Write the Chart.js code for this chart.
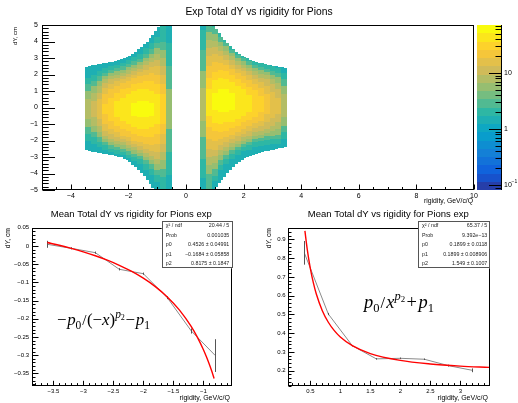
<!DOCTYPE html>
<html>
<head>
<meta charset="utf-8">
<title>Exp Total dY vs rigidity for Pions</title>
<script src="https://cdn.jsdelivr.net/npm/chart.js@4.4.1/dist/chart.umd.min.js"></script>
<style>
  html, body { margin: 0; padding: 0; background: #ffffff; }
  #page { position: relative; width: 518px; height: 403px; overflow: hidden; background: #ffffff; }
  #page canvas { position: absolute; }
</style>
</head>
<body>
<div id="page">
  <canvas id="cTop" width="518" height="206" style="left:0px;top:0px;"></canvas>
  <canvas id="cLeft" width="259" height="198" style="left:0px;top:205px;"></canvas>
  <canvas id="cRight" width="259" height="198" style="left:259px;top:205px;"></canvas>
</div>
<script>
// ================= DATA =================
// --- top pad: 2D histogram dY vs rigidity ---
// contour columns, 0.2 GeV/c/Q wide (centres)
const heatColumnX = [-3.4,-3.2,-3.0,-2.8,-2.6,-2.4,-2.2,-2.0,-1.8,-1.6,-1.4,-1.2,-1.0,-0.8,-0.6,
                      0.6, 0.8, 1.0, 1.2, 1.4, 1.6, 1.8, 2.0, 2.2, 2.4, 2.6, 2.8, 3.0, 3.2, 3.4];
const heatBinWidth = 0.2;
// y of the densest part in each column (cm)
const heatCoreY = [-0.1,-0.1,-0.1,-0.1,-0.1,-0.1,-0.1,-0.1,-0.1,-0.1,-0.1,-0.1,-0.1,-0.1,-0.1,
                    0.2, 0.3, 0.35,0.4, 0.4, 0.35,0.3, 0.3, 0.25,0.25,0.2, 0.2, 0.15,0.1, 0.1];
// contour bands per column: [distance from core (cm), entries per bin], core outwards
const heatBands = [
  [[0.6,7.5],[1.1,5],[1.5,3.3],[1.9,2.2],[9,1.4]],
  [[0.5,11],[1.0,7.5],[1.4,5],[1.7,3.3],[2.1,2.2],[9,1.4]],
  [[0.6,16],[1.0,11],[1.4,7.5],[1.7,5],[2.0,3.3],[2.3,2.2],[9,1.4]],
  [[0.3,32],[0.9,24],[1.3,16],[1.6,11],[1.8,7.5],[2.0,5],[2.2,3.3],[2.5,2.2],[9,1.4]],
  [[0.7,32],[1.2,24],[1.5,16],[1.8,11],[2.0,7.5],[2.2,5],[2.4,3.3],[2.6,2.2],[9,1.4]],
  [[0.5,45],[1.0,32],[1.4,24],[1.7,16],[1.9,11],[2.1,7.5],[2.3,5],[2.5,3.3],[2.7,2.2],[9,1.4]],
  [[0.7,45],[1.2,32],[1.6,24],[1.8,16],[2.0,11],[2.2,7.5],[2.4,5],[2.6,3.3],[2.8,2.2],[9,1.4]],
  [[0.9,45],[1.3,32],[1.7,24],[1.95,16],[2.15,11],[2.35,7.5],[2.55,5],[2.75,3.3],[2.95,2.2],[9,1.4]],
  [[0.4,60],[1.1,45],[1.5,32],[1.9,24],[2.1,16],[2.3,11],[2.5,7.5],[2.7,5],[2.9,3.3],[3.15,2.2],[9,1.4]],
  [[0.5,60],[1.2,45],[1.6,32],[2.0,24],[2.25,16],[2.45,11],[2.65,7.5],[2.85,5],[3.05,3.3],[3.35,2.2],[9,1.4]],
  [[0.5,60],[1.2,45],[1.7,32],[2.1,24],[2.4,16],[2.65,11],[2.9,7.5],[3.1,5],[3.35,3.3],[3.7,2.2],[9,1.4]],
  [[0.4,60],[1.1,45],[1.7,32],[2.2,24],[2.55,16],[2.85,11],[3.1,7.5],[3.35,5],[3.65,3.3],[4.0,2.2],[9,1.4]],
  [[0.9,45],[1.5,32],[2.1,24],[2.6,16],[3.0,11],[3.35,7.5],[3.7,5],[4.0,3.3],[4.4,2.2],[9,1.4]],
  [[0.9,32],[1.5,24],[2.1,16],[2.6,11],[3.1,7.5],[3.6,5],[4.1,3.3],[9,2.2]],
  [[1.2,5],[2.6,3.3],[4.0,2.2],[9,1.4]],
  [[1.0,7.5],[2.0,5],[3.3,3.3],[4.5,2.2],[9,1.4]],
  [[0.8,45],[1.5,32],[2.2,24],[2.8,16],[3.3,11],[3.8,7.5],[4.3,5],[9,3.3]],
  [[0.5,60],[1.3,45],[1.8,32],[2.4,24],[2.9,16],[3.3,11],[3.7,7.5],[4.1,5],[4.5,3.3],[4.8,2.2],[9,1.4]],
  [[0.7,60],[1.4,45],[1.9,32],[2.3,24],[2.7,16],[3.0,11],[3.3,7.5],[3.6,5],[3.9,3.3],[4.2,2.2],[9,1.4]],
  [[0.7,60],[1.3,45],[1.8,32],[2.2,24],[2.5,16],[2.8,11],[3.05,7.5],[3.3,5],[3.55,3.3],[3.85,2.2],[9,1.4]],
  [[0.5,60],[1.2,45],[1.6,32],[2.0,24],[2.25,16],[2.5,11],[2.75,7.5],[2.95,5],[3.15,3.3],[3.45,2.2],[9,1.4]],
  [[1.0,45],[1.4,32],[1.8,24],[2.05,16],[2.3,11],[2.5,7.5],[2.7,5],[2.9,3.3],[3.15,2.2],[9,1.4]],
  [[0.8,45],[1.2,32],[1.6,24],[1.9,16],[2.1,11],[2.3,7.5],[2.5,5],[2.7,3.3],[2.95,2.2],[9,1.4]],
  [[0.5,45],[1.0,32],[1.4,24],[1.7,16],[1.95,11],[2.15,7.5],[2.35,5],[2.55,3.3],[2.8,2.2],[9,1.4]],
  [[0.8,32],[1.2,24],[1.5,16],[1.75,11],[1.95,7.5],[2.15,5],[2.35,3.3],[2.65,2.2],[9,1.4]],
  [[0.5,32],[1.0,24],[1.35,16],[1.6,11],[1.85,7.5],[2.05,5],[2.25,3.3],[2.55,2.2],[9,1.4]],
  [[0.6,24],[1.1,16],[1.5,11],[1.75,7.5],[1.95,5],[2.15,3.3],[2.45,2.2],[9,1.4]],
  [[0.8,16],[1.25,11],[1.55,7.5],[1.85,5],[2.05,3.3],[2.35,2.2],[9,1.4]],
  [[0.5,16],[1.0,11],[1.4,7.5],[1.75,5],[2.0,3.3],[2.3,2.2],[9,1.4]],
  [[0.7,7.5],[1.2,5],[1.6,3.3],[2.0,2.2],[9,1.4]]
];
// edge of the populated region, sampled every 0.1 GeV/c/Q (centres, upper edge, lower edge; cm)
const heatEdgeX = [-3.45,-3.35,-3.25,-3.15,-3.05,-2.95,-2.85,-2.75,-2.65,-2.55,-2.45,-2.35,-2.25,-2.15,-2.05,
                   -1.95,-1.85,-1.75,-1.65,-1.55,-1.45,-1.35,-1.25,-1.15,-1.05,-0.95,-0.85,-0.75,-0.65,-0.55,
                    0.55, 0.65, 0.75, 0.85, 0.95, 1.05, 1.15, 1.25, 1.35, 1.45, 1.55, 1.65, 1.75, 1.85, 1.95,
                    2.05, 2.15, 2.25, 2.35, 2.45, 2.55, 2.65, 2.75, 2.85, 2.95, 3.05, 3.15, 3.25, 3.35, 3.45];
const heatUpperEdge = [2.48,2.52,2.56,2.6,2.63,2.66,2.69,2.72,2.75,2.78,2.82,2.86,2.91,2.97,3.04,
                       3.12,3.25,3.38,3.52,3.66,3.82,4.0,4.2,4.42,4.65,4.9,5,5,5,5,
                       5,5,5,5,5,4.75,4.5,4.3,4.1,3.9,3.72,3.56,3.38,3.25,3.14,
                       3.05,2.97,2.9,2.84,2.78,2.72,2.67,2.63,2.59,2.56,2.53,2.5,2.46,2.43,2.4];
const heatLowerEdge = [-2.6,-2.64,-2.67,-2.7,-2.73,-2.76,-2.79,-2.82,-2.85,-2.88,-2.92,-2.97,-3.03,-3.1,-3.2,
                       -3.32,-3.47,-3.63,-3.8,-3.98,-4.18,-4.4,-4.62,-4.85,-5,-5,-5,-5,-5,-5,
                       -5,-5,-5,-5,-5,-4.8,-4.6,-4.4,-4.2,-3.98,-3.78,-3.6,-3.42,-3.28,-3.16,
                       -3.07,-2.99,-2.92,-2.86,-2.8,-2.75,-2.7,-2.66,-2.62,-2.58,-2.55,-2.51,-2.48,-2.45,-2.42];
const zRange = [0.0814, 72];            // colour (z) axis range, log scale
const paletteMajorTicks = [0.1, 1, 10];
const topXTicks = [-4,-2,0,2,4,6,8,10];
const topYTicks = [-5,-4,-3,-2,-1,0,1,2,3,4,5];

// --- bottom-left pad: profile for negative rigidity + fit ---
const leftRigidity = [-3.6,-3.2,-2.8,-2.4,-2.0,-1.6,-1.2,-0.8];
const leftMeanDY   = [0.0047,-0.0064,-0.0183,-0.064,-0.076,-0.142,-0.2335,-0.301];
const leftErrDY    = [0.0096,0.003,0.003,0.003,0.003,0.004,0.007,0.045];
const leftFitX = [-3.6,-3.4,-3.2,-3.0,-2.8,-2.6,-2.4,-2.2,-2.0,-1.8,-1.6,-1.4,-1.2,-1.1,-1.0,-0.95,-0.9,-0.86,-0.82];
const leftFitY = [0.0095,0.002,-0.0065,-0.016,-0.0267,-0.0388,-0.0529,-0.0692,-0.0884,-0.1115,-0.1398,-0.1754,-0.2215,-0.2503,-0.2842,-0.3036,-0.3249,-0.3436,-0.3639];
const leftXTicks = [-3.5,-3,-2.5,-2,-1.5,-1];
const leftYTicks = [0.05,0,-0.05,-0.1,-0.15,-0.2,-0.25,-0.3,-0.35];
const leftStatLabels = ['\u03C7\u00B2 / ndf','Prob','p0','p1','p2'];
const leftStatValues = ['20.44 / 5','0.001035','0.4526 \u00B1 0.04991','\u22120.1684 \u00B1 0.05858','0.8175 \u00B1 0.1847'];

// --- bottom-right pad: profile for positive rigidity + fit ---
const rightRigidity = [0.4,0.8,1.2,1.6,2.0,2.4,2.8,3.2];
const rightMeanDY   = [0.828,0.502,0.333,0.263,0.266,0.261,0.227,0.202];
const rightErrDY    = [0.063,0.006,0.004,0.004,0.004,0.004,0.005,0.01];
const rightFitX = [0.41,0.45,0.5,0.55,0.6,0.7,0.8,0.9,1.0,1.2,1.5,2.0,2.5,3.0,3.48];
const rightFitY = [0.9455,0.8441,0.7456,0.6693,0.6089,0.5199,0.4582,0.4135,0.3798,0.3331,0.2912,0.2548,0.2358,0.2245,0.2174];
const rightXTicks = [0.5,1,1.5,2,2.5,3];
const rightYTicks = [0.2,0.3,0.4,0.5,0.6,0.7,0.8,0.9];
const rightStatLabels = ['\u03C7\u00B2 / ndf','Prob','p0','p1','p2'];
const rightStatValues = ['65.37 / 5','9.392e\u221213','0.1899 \u00B1 0.0118','0.1899 \u00B1 0.008906','1.549 \u00B1 0.1007'];

// ================= STYLE / HELPERS =================
const FONT = '"Liberation Sans", Arial, Helvetica, sans-serif';
const SERIF = '"Liberation Serif", "Times New Roman", serif';
const MINUS = '\u2212';
function tickText(v) {
  let s = String(parseFloat(Number(v).toFixed(4)));
  if (s === '-0') s = '0';
  return s.replace('-', MINUS);
}
// ROOT kBird palette
const birdR = [0.2082,0.0592,0.0780,0.0232,0.1802,0.5301,0.8186,0.9956,0.9764];
const birdG = [0.1664,0.3599,0.5041,0.6419,0.7178,0.7492,0.7328,0.7862,0.9832];
const birdB = [0.5293,0.8684,0.8385,0.7914,0.6425,0.4662,0.3499,0.1968,0.0539];
function bird(t) {
  t = Math.max(0, Math.min(1, t));
  const seg = Math.min(7, Math.floor(t * 8));
  const f = t * 8 - seg;
  const c = [birdR, birdG, birdB].map(a => Math.round(255 * (a[seg] + (a[seg + 1] - a[seg]) * f)));
  return 'rgb(' + c[0] + ',' + c[1] + ',' + c[2] + ')';
}
const N_CONT = 20;
function bandColor(i) { return bird((i + 0.99) / N_CONT); }
function zBand(count) {
  const lo = Math.log10(zRange[0]), hi = Math.log10(zRange[1]);
  const f = (Math.log10(count) - lo) / (hi - lo);
  return Math.max(0, Math.min(N_CONT - 1, Math.floor(f * N_CONT)));
}
function fixedTicks(arr) { return s => { s.ticks = arr.map(v => ({ value: v })); }; }

function rootAxes(cfg) {
  return {
    id: 'rootAxes',
    afterDraw(chart) {
      const { ctx, chartArea: a } = chart;
      const xs = chart.scales.x, ys = chart.scales.y;
      const L = Math.round(a.left), R = Math.round(a.right), T = Math.round(a.top), B = Math.round(a.bottom);
      ctx.save();
      ctx.lineWidth = 1;
      ctx.strokeStyle = cfg.frameColor;
      ctx.strokeRect(L + 0.5, T + 0.5, R - L - 1, B - T - 1);
      ctx.strokeStyle = '#000';
      ctx.beginPath();
      ctx.moveTo(L + 0.5, T); ctx.lineTo(L + 0.5, B);
      ctx.moveTo(L, B - 0.5); ctx.lineTo(R, B - 0.5);
      const k0 = Math.ceil(xs.min / cfg.xMinor - 1e-6), k1 = Math.floor(xs.max / cfg.xMinor + 1e-6);
      for (let k = k0; k <= k1; k++) {
        const v = k * cfg.xMinor;
        const major = Math.abs(v / cfg.xMajor - Math.round(v / cfg.xMajor)) < 1e-6;
        const p = Math.round(xs.getPixelForValue(v)) + 0.5;
        ctx.moveTo(p, B - 0.5); ctx.lineTo(p, B - 0.5 - (major ? cfg.xMajorLen : cfg.xMinorLen));
      }
      const j0 = Math.ceil(ys.min / cfg.yMinor - 1e-6), j1 = Math.floor(ys.max / cfg.yMinor + 1e-6);
      for (let j = j0; j <= j1; j++) {
        const v = j * cfg.yMinor;
        const major = Math.abs(v / cfg.yMajor - Math.round(v / cfg.yMajor)) < 1e-6;
        const p = Math.round(ys.getPixelForValue(v)) + 0.5;
        ctx.moveTo(L + 0.5, p); ctx.lineTo(L + 0.5 + (major ? cfg.yMajorLen : cfg.yMinorLen), p);
      }
      ctx.stroke();
      ctx.restore();
    }
  };
}

function drawText(ctx, txt, x, y, size, align, opts) {
  opts = opts || {};
  ctx.save();
  ctx.font = (opts.italic ? 'italic ' : '') + size + 'px ' + (opts.family || FONT);
  ctx.fillStyle = opts.color || '#000';
  ctx.textAlign = align || 'left';
  ctx.textBaseline = opts.baseline || 'middle';
  if (opts.rotate) { ctx.translate(x, y); ctx.rotate(opts.rotate); ctx.fillText(txt, 0, 0); }
  else ctx.fillText(txt, x, y);
  ctx.restore();
}

function drawLatex(ctx, segs, x0, baseline, targetW) {
  const base = 18;
  const setFont = (s, size) => { ctx.font = (s.italic ? 'italic ' : '') + (s.rel * size) + 'px ' + SERIF; };
  let w0 = 0;
  segs.forEach(s => { setFont(s, base); w0 += ctx.measureText(s.t).width + (s.gap || 0) * base; });
  const size = base * targetW / w0;
  ctx.save();
  ctx.fillStyle = '#000';
  ctx.textBaseline = 'alphabetic';
  ctx.textAlign = 'left';
  let x = x0;
  segs.forEach(s => {
    setFont(s, size);
    ctx.fillText(s.t, x, baseline + (s.dy || 0) * size);
    x += ctx.measureText(s.t).width + (s.gap || 0) * size;
  });
  ctx.restore();
}

function drawStatBox(ctx, box, labels, values) {
  ctx.save();
  ctx.fillStyle = '#fff';
  ctx.fillRect(box.l, box.t, box.r - box.l, box.b - box.t);
  ctx.strokeStyle = '#555';
  ctx.lineWidth = 1;
  ctx.strokeRect(Math.round(box.l) + 0.5, Math.round(box.t) + 0.5, Math.round(box.r - box.l) - 1, Math.round(box.b - box.t) - 1);
  const rowH = (box.b - box.t) / labels.length;
  labels.forEach((lab, i) => {
    const y = box.t + rowH * (i + 0.5);
    drawText(ctx, lab, box.l + 4, y, 5.3, 'left', { color: '#222' });
    drawText(ctx, values[i], box.r - 3, y, 5.3, 'right', { color: '#222' });
  });
  ctx.restore();
}

// ================= TOP PAD: 2D histogram =================
const heatPlugin = {
  id: 'heat',
  beforeDatasetsDraw(chart) {
    const { ctx, chartArea: a } = chart;
    const xs = chart.scales.x, ys = chart.scales.y;
    ctx.save();
    ctx.beginPath(); ctx.rect(a.left, a.top, a.right - a.left, a.bottom - a.top); ctx.clip();
    heatEdgeX.forEach((ex, j) => {
      const i = heatColumnX.findIndex(cx => Math.abs(cx - ex) < heatBinWidth / 2);
      if (i < 0) return;
      const x0 = Math.round(xs.getPixelForValue(ex - 0.05));
      const x1 = Math.round(xs.getPixelForValue(ex + 0.05));
      const c = heatCoreY[i], up = heatUpperEdge[j], lo = heatLowerEdge[j];
      const seg = (ya, yb) => {
        if (yb <= ya) return;
        const p0 = Math.round(ys.getPixelForValue(yb)), p1 = Math.round(ys.getPixelForValue(ya));
        if (p1 > p0) ctx.fillRect(x0, p0, x1 - x0, p1 - p0);
      };
      let inner = 0;
      heatBands[i].forEach(([outer, count]) => {
        ctx.fillStyle = bandColor(zBand(count));
        seg(c + inner, Math.min(c + outer, up));
        seg(Math.max(c - outer, lo), c - inner);
        inner = outer;
      });
    });
    ctx.restore();
  }
};

const palettePlugin = {
  id: 'palette',
  afterDraw(chart) {
    const { ctx, chartArea: a } = chart;
    const zs = chart.scales.z;
    const lo = Math.log10(zRange[0]), hi = Math.log10(zRange[1]);
    const zpx = v => {
      const p = zs ? zs.getPixelForValue(v) : NaN;
      if (isFinite(p)) return p;
      return a.bottom - (Math.log10(v) - lo) / (hi - lo) * (a.bottom - a.top);
    };
    const pl = Math.round(a.right) + 3, pr = pl + 25;
    ctx.save();
    for (let i = 0; i < N_CONT; i++) {
      const v0 = Math.pow(10, lo + (hi - lo) * i / N_CONT);
      const v1 = Math.pow(10, lo + (hi - lo) * (i + 1) / N_CONT);
      const y0 = Math.round(zpx(v0)), y1 = Math.round(zpx(v1));
      ctx.fillStyle = bandColor(i);
      ctx.fillRect(pl, y1, pr - pl, y0 - y1);
    }
    ctx.strokeStyle = '#000';
    ctx.lineWidth = 1;
    ctx.beginPath();
    ctx.moveTo(pr - 0.5, Math.round(zpx(zRange[1]))); ctx.lineTo(pr - 0.5, Math.round(zpx(zRange[0])));
    for (let e = -2; e <= 2; e++) {
      for (let m = 1; m <= 9; m++) {
        const v = m * Math.pow(10, e);
        if (v < zRange[0] || v > zRange[1]) continue;
        const p = Math.round(zpx(v)) + 0.5;
        const len = m === 1 ? 13 : 6.5;
        ctx.moveTo(pr, p); ctx.lineTo(pr - len, p);
      }
    }
    ctx.stroke();
    ctx.restore();
    paletteMajorTicks.forEach(v => {
      const p = zpx(v);
      if (v >= 10) drawText(ctx, '10', pr + 2, p, 7, 'left');
      else if (v >= 1) drawText(ctx, '1', pr + 2, p, 7, 'left');
      else {
        drawText(ctx, '10', pr + 2, p, 7, 'left');
        drawText(ctx, MINUS + '1', pr + 9.5, p - 3, 5, 'left');
      }
    });
  }
};

const topTextPlugin = {
  id: 'topText',
  afterDraw(chart) {
    const ctx = chart.ctx;
    drawText(ctx, 'Exp Total dY vs rigidity for Pions', 259, 12, 10.3, 'center');
    drawText(ctx, 'dY, cm', 15.5, 27, 6, 'right', { rotate: -Math.PI / 2 });
    drawText(ctx, 'rigidity, GeV/c/Q', 473, 201.5, 6.8, 'right');
  }
};

new Chart(document.getElementById('cTop'), {
  type: 'scatter',
  data: { datasets: [{ data: [], pointRadius: 0 }] },
  options: {
    responsive: false, animation: false, events: [],
    layout: { padding: { left: 12, right: 44, top: 25, bottom: 4 } },
    plugins: { legend: { display: false }, tooltip: { enabled: false } },
    scales: {
      x: {
        type: 'linear', min: -5, max: 10,
        grid: { display: false, drawTicks: false }, border: { display: false },
        ticks: { font: { family: FONT, size: 7 }, color: '#000', padding: 1.5, autoSkip: false, maxRotation: 0, callback: v => tickText(v) },
        afterBuildTicks: fixedTicks(topXTicks),
        afterFit: s => { s.height = 12; }
      },
      y: {
        type: 'linear', min: -5, max: 5,
        grid: { display: false, drawTicks: false }, border: { display: false },
        ticks: { font: { family: FONT, size: 7 }, color: '#000', padding: 4, autoSkip: false, callback: v => tickText(v) },
        afterBuildTicks: fixedTicks(topYTicks),
        afterFit: s => { s.width = 30; }
      },
      z: { type: 'logarithmic', position: 'right', display: false, min: zRange[0], max: zRange[1] }
    }
  },
  plugins: [heatPlugin,
    rootAxes({ frameColor: '#000', xMinor: 0.5, xMajor: 2, xMajorLen: 5, xMinorLen: 2.5, yMinor: 0.2, yMajor: 1, yMajorLen: 12.5, yMinorLen: 6.2 }),
    palettePlugin, topTextPlugin]
});

// ================= BOTTOM PADS: profiles with fits =================
function errorBarsPlugin(xv, yv, ev) {
  return {
    id: 'errBars',
    afterDatasetDraw(chart, args) {
      if (args.index !== 1) return;
      const { ctx, chartArea: a } = chart;
      const xs = chart.scales.x, ys = chart.scales.y;
      ctx.save();
      ctx.beginPath(); ctx.rect(a.left, a.top, a.right - a.left, a.bottom - a.top); ctx.clip();
      ctx.strokeStyle = '#555';
      ctx.lineWidth = 1;
      ctx.beginPath();
      xv.forEach((x, i) => {
        const px = Math.round(xs.getPixelForValue(x)) + 0.5;
        ctx.moveTo(px, ys.getPixelForValue(yv[i] + ev[i]));
        ctx.lineTo(px, ys.getPixelForValue(yv[i] - ev[i]));
      });
      ctx.stroke();
      ctx.restore();
    }
  };
}

function profileChart(id, cfg) {
  return new Chart(document.getElementById(id), {
    type: 'scatter',
    data: {
      datasets: [
        { label: 'fit', data: cfg.fitX.map((x, i) => ({ x, y: cfg.fitY[i] })), showLine: true,
          borderColor: '#ff0000', borderWidth: 1.4, pointRadius: 0, cubicInterpolationMode: 'monotone', fill: false },
        { label: 'profile', data: cfg.px.map((x, i) => ({ x, y: cfg.py[i] })), showLine: true,
          borderColor: '#8a8a8a', borderWidth: 1, pointRadius: 0, tension: 0, fill: false }
      ]
    },
    options: {
      responsive: false, animation: false, events: [],
      layout: { padding: cfg.padding },
      plugins: { legend: { display: false }, tooltip: { enabled: false } },
      scales: {
        x: {
          type: 'linear', min: cfg.xRange[0], max: cfg.xRange[1],
          grid: { display: false, drawTicks: false }, border: { display: false },
          ticks: { font: { family: FONT, size: 6 }, color: '#000', padding: 1.5, autoSkip: false, maxRotation: 0, callback: v => tickText(v) },
          afterBuildTicks: fixedTicks(cfg.xTicks),
          afterFit: s => { s.height = 10; }
        },
        y: {
          type: 'linear', min: cfg.yRange[0], max: cfg.yRange[1],
          grid: { display: false, drawTicks: false }, border: { display: false },
          ticks: { font: { family: FONT, size: 6 }, color: '#000', padding: 2.5, autoSkip: false, callback: v => tickText(v) },
          afterBuildTicks: fixedTicks(cfg.yTicks),
          afterFit: s => { s.width = 24; }
        }
      }
    },
    plugins: [
      errorBarsPlugin(cfg.px, cfg.py, cfg.pe),
      rootAxes(cfg.axes),
      {
        id: 'padText',
        afterDraw(chart) {
          const ctx = chart.ctx;
          drawText(ctx, 'Mean Total dY vs rigidity for Pions exp', cfg.titleX, 9.5, 9.5, 'center');
          drawText(ctx, 'dY, cm', cfg.yTitleX, 23, 6.8, 'right', { rotate: -Math.PI / 2 });
          drawText(ctx, 'rigidity, GeV/c/Q', cfg.xTitleRight, 193, 7, 'right');
          drawLatex(ctx, cfg.formula, cfg.formulaX, cfg.formulaBase, cfg.formulaW);
          drawStatBox(ctx, cfg.statBox, cfg.statLabels, cfg.statValues);
        }
      }
    ]
  });
}

profileChart('cLeft', {
  px: leftRigidity, py: leftMeanDY, pe: leftErrDY, fitX: leftFitX, fitY: leftFitY,
  xRange: [-3.86, -0.527], yRange: [-0.3846, 0.0503], xTicks: leftXTicks, yTicks: leftYTicks,
  padding: { left: 7.7, right: 27.3, top: 22.7, bottom: 7 },
  axes: { frameColor: '#000', xMinor: 0.1, xMajor: 0.5, xMajorLen: 4.7, xMinorLen: 2.4, yMinor: 0.01, yMajor: 0.05, yMajorLen: 6, yMinorLen: 3 },
  titleX: 131.3, yTitleX: 8.5, xTitleRight: 230,
  formula: [
    { t: MINUS, rel: 1, gap: 0.04 }, { t: 'p', rel: 1, italic: 1 }, { t: '0', rel: 0.68, dy: 0.24, gap: 0.05 },
    { t: '/', rel: 0.9, gap: 0.03 }, { t: '(', rel: 1 }, { t: MINUS, rel: 1 }, { t: 'x', rel: 1, italic: 1 }, { t: ')', rel: 1 },
    { t: 'p', rel: 0.68, italic: 1, dy: -0.42 }, { t: '2', rel: 0.48, dy: -0.3, gap: 0.04 },
    { t: MINUS, rel: 1, gap: 0.04 }, { t: 'p', rel: 1, italic: 1 }, { t: '1', rel: 0.68, dy: 0.24 }
  ],
  formulaX: 57, formulaBase: 120, formulaW: 93,
  statBox: { l: 161.7, r: 232.3, t: 16, b: 63.3 },
  statLabels: leftStatLabels, statValues: leftStatValues
});

profileChart('cRight', {
  px: rightRigidity, py: rightMeanDY, pe: rightErrDY, fitX: rightFitX, fitY: rightFitY,
  xRange: [0.128, 3.49], yRange: [0.1184, 0.962], xTicks: rightXTicks, yTicks: rightYTicks,
  padding: { left: 5, right: 28.3, top: 22.7, bottom: 7 },
  axes: { frameColor: '#000', xMinor: 0.1, xMajor: 0.5, xMajorLen: 4.7, xMinorLen: 2.4, yMinor: 0.02, yMajor: 0.1, yMajorLen: 6, yMinorLen: 3 },
  titleX: 129.3, yTitleX: 10, xTitleRight: 229,
  formula: [
    { t: 'p', rel: 1, italic: 1 }, { t: '0', rel: 0.68, dy: 0.24, gap: 0.06 },
    { t: '/', rel: 0.9, gap: 0.06 }, { t: 'x', rel: 1, italic: 1 },
    { t: 'p', rel: 0.68, italic: 1, dy: -0.42 }, { t: '2', rel: 0.48, dy: -0.3, gap: 0.08 },
    { t: '+', rel: 1, gap: 0.08 }, { t: 'p', rel: 1, italic: 1 }, { t: '1', rel: 0.68, dy: 0.24 }
  ],
  formulaX: 105, formulaBase: 103, formulaW: 70,
  statBox: { l: 159, r: 231.3, t: 16, b: 63.3 },
  statLabels: rightStatLabels, statValues: rightStatValues
});
</script>
</body>
</html>
